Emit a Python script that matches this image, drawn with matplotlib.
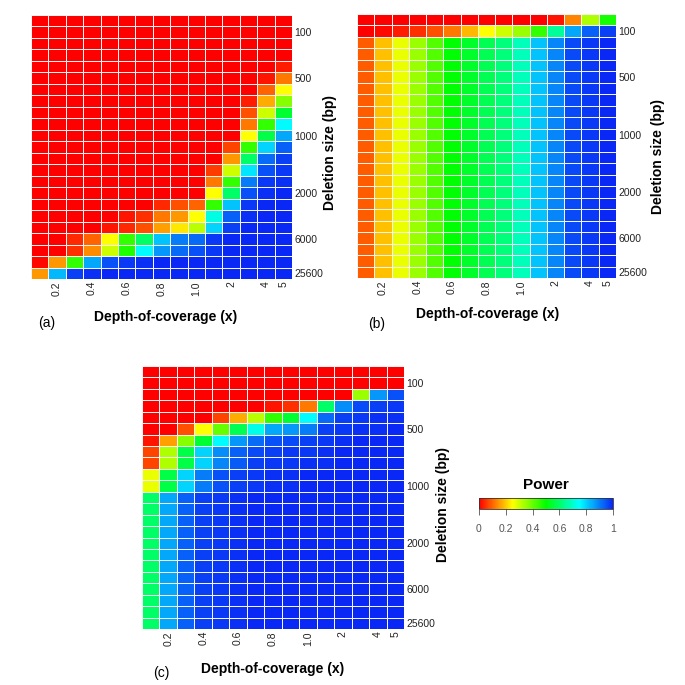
import matplotlib
matplotlib.use("Agg")
import matplotlib.pyplot as plt
import numpy as np
from matplotlib.colors import LinearSegmentedColormap, Normalize
from matplotlib.cm import ScalarMappable

plt.rcParams['font.family'] = ['Liberation Sans', 'DejaVu Sans']

# ---- data ----
depth_values = [0.1, 0.2, 0.3, 0.4, 0.5, 0.6, 0.7, 0.8, 0.9, 1.0, 1.5, 2, 3, 4, 5]
depth_tick_labels = {0.2: "0.2", 0.4: "0.4", 0.6: "0.6", 0.8: "0.8", 1.0: "1.0", 2: "2", 4: "4", 5: "5"}
deletion_sizes = [50, 100, 200, 300, 400, 500, 600, 700, 800, 900, 1000, 1200, 1400,
                  1600, 1800, 2000, 3000, 4000, 5000, 6000, 8000, 12800, 25600]
deletion_tick_labels = [100, 500, 1000, 2000, 6000, 25600]

power_a = [
    [0, 0, 0, 0, 0, 0, 0, 0, 0, 0, 0, 0, 0, 0, 0],
    [0, 0, 0, 0, 0, 0, 0, 0, 0, 0, 0, 0, 0, 0, 0],
    [0, 0, 0, 0, 0, 0, 0, 0, 0, 0, 0, 0, 0, 0, 0],
    [0, 0, 0, 0, 0, 0, 0, 0, 0, 0, 0, 0, 0, 0, 0],
    [0, 0, 0, 0, 0, 0, 0, 0, 0, 0, 0, 0, 0, 0, 0.03],
    [0, 0, 0, 0, 0, 0, 0, 0, 0, 0, 0, 0, 0, 0.02, 0.12],
    [0, 0, 0, 0, 0, 0, 0, 0, 0, 0, 0, 0, 0, 0.10, 0.25],
    [0, 0, 0, 0, 0, 0, 0, 0, 0, 0, 0, 0, 0.03, 0.17, 0.37],
    [0, 0, 0, 0, 0, 0, 0, 0, 0, 0, 0, 0, 0.08, 0.30, 0.55],
    [0, 0, 0, 0, 0, 0, 0, 0, 0, 0, 0, 0, 0.12, 0.45, 0.75],
    [0, 0, 0, 0, 0, 0, 0, 0, 0, 0, 0, 0, 0.25, 0.57, 0.85],
    [0, 0, 0, 0, 0, 0, 0, 0, 0, 0, 0, 0.07, 0.45, 0.80, 0.93],
    [0, 0, 0, 0, 0, 0, 0, 0, 0, 0, 0, 0.15, 0.60, 0.92, 0.97],
    [0, 0, 0, 0, 0, 0, 0, 0, 0, 0, 0.06, 0.30, 0.78, 0.95, 0.98],
    [0, 0, 0, 0, 0, 0, 0, 0, 0, 0, 0.12, 0.45, 0.90, 0.98, 0.99],
    [0, 0, 0, 0, 0, 0, 0, 0, 0, 0, 0.25, 0.60, 0.95, 0.99, 1.0],
    [0, 0, 0, 0, 0, 0, 0, 0.04, 0.08, 0.10, 0.45, 0.82, 0.98, 1.0, 1.0],
    [0, 0, 0, 0, 0, 0.02, 0.05, 0.12, 0.15, 0.25, 0.72, 0.93, 0.99, 1.0, 1.0],
    [0, 0, 0, 0, 0.02, 0.04, 0.08, 0.16, 0.23, 0.32, 0.80, 0.97, 1.0, 1.0, 1.0],
    [0, 0, 0.04, 0.10, 0.25, 0.45, 0.60, 0.82, 0.90, 0.92, 0.98, 1.0, 1.0, 1.0, 1.0],
    [0, 0, 0.05, 0.14, 0.30, 0.47, 0.75, 0.87, 0.92, 0.95, 0.98, 1.0, 1.0, 1.0, 1.0],
    [0.01, 0.15, 0.45, 0.85, 0.95, 0.98, 0.99, 1.0, 1.0, 1.0, 1.0, 1.0, 1.0, 1.0, 1.0],
    [0.15, 0.83, 0.97, 0.99, 1.0, 1.0, 1.0, 1.0, 1.0, 1.0, 1.0, 1.0, 1.0, 1.0, 1.0],
]

power_b = [
    [0, 0, 0, 0, 0, 0, 0, 0, 0, 0, 0, 0.02, 0.13, 0.33, 0.48],
    [0, 0.01, 0.03, 0.05, 0.08, 0.12, 0.18, 0.25, 0.30, 0.35, 0.45, 0.65, 0.85, 0.93, 0.97],
    [0.09, 0.19, 0.27, 0.35, 0.42, 0.50, 0.54, 0.58, 0.62, 0.68, 0.82, 0.89, 0.96, 0.98, 1.0],
    [0.09, 0.19, 0.27, 0.35, 0.42, 0.50, 0.54, 0.58, 0.62, 0.68, 0.82, 0.89, 0.96, 0.98, 1.0],
    [0.09, 0.19, 0.27, 0.35, 0.42, 0.50, 0.54, 0.58, 0.62, 0.68, 0.82, 0.89, 0.96, 0.98, 1.0],
    [0.09, 0.19, 0.27, 0.35, 0.42, 0.50, 0.54, 0.58, 0.62, 0.68, 0.82, 0.89, 0.96, 0.98, 1.0],
    [0.09, 0.19, 0.27, 0.35, 0.42, 0.50, 0.54, 0.58, 0.62, 0.68, 0.82, 0.89, 0.96, 0.98, 1.0],
    [0.09, 0.19, 0.27, 0.35, 0.42, 0.50, 0.54, 0.58, 0.62, 0.68, 0.82, 0.89, 0.96, 0.98, 1.0],
    [0.09, 0.19, 0.27, 0.35, 0.42, 0.50, 0.54, 0.58, 0.62, 0.68, 0.82, 0.89, 0.96, 0.98, 1.0],
    [0.09, 0.19, 0.27, 0.35, 0.42, 0.50, 0.54, 0.58, 0.62, 0.68, 0.82, 0.89, 0.96, 0.98, 1.0],
    [0.09, 0.19, 0.27, 0.35, 0.42, 0.50, 0.54, 0.58, 0.62, 0.68, 0.82, 0.89, 0.96, 0.98, 1.0],
    [0.09, 0.19, 0.27, 0.35, 0.42, 0.50, 0.54, 0.58, 0.62, 0.68, 0.82, 0.89, 0.96, 0.98, 1.0],
    [0.09, 0.19, 0.27, 0.35, 0.42, 0.50, 0.54, 0.58, 0.62, 0.68, 0.82, 0.89, 0.96, 0.98, 1.0],
    [0.09, 0.19, 0.27, 0.35, 0.42, 0.50, 0.54, 0.58, 0.62, 0.68, 0.82, 0.89, 0.96, 0.98, 1.0],
    [0.09, 0.19, 0.27, 0.35, 0.42, 0.50, 0.54, 0.58, 0.62, 0.68, 0.82, 0.89, 0.96, 0.98, 1.0],
    [0.09, 0.19, 0.27, 0.35, 0.42, 0.50, 0.54, 0.58, 0.62, 0.68, 0.82, 0.89, 0.96, 0.98, 1.0],
    [0.09, 0.19, 0.27, 0.35, 0.42, 0.50, 0.54, 0.58, 0.62, 0.68, 0.82, 0.89, 0.96, 0.98, 1.0],
    [0.09, 0.19, 0.27, 0.35, 0.42, 0.50, 0.54, 0.58, 0.62, 0.68, 0.82, 0.89, 0.96, 0.98, 1.0],
    [0.09, 0.19, 0.27, 0.35, 0.42, 0.50, 0.54, 0.58, 0.62, 0.68, 0.82, 0.89, 0.96, 0.98, 1.0],
    [0.09, 0.19, 0.27, 0.35, 0.42, 0.50, 0.54, 0.58, 0.62, 0.68, 0.82, 0.89, 0.96, 0.98, 1.0],
    [0.09, 0.19, 0.27, 0.35, 0.42, 0.50, 0.54, 0.58, 0.62, 0.68, 0.82, 0.89, 0.96, 0.98, 1.0],
    [0.09, 0.19, 0.27, 0.35, 0.42, 0.50, 0.54, 0.58, 0.62, 0.68, 0.82, 0.89, 0.96, 0.98, 1.0],
    [0.09, 0.19, 0.27, 0.35, 0.42, 0.50, 0.54, 0.58, 0.62, 0.68, 0.82, 0.89, 0.96, 0.98, 1.0],
]

power_c = [
    [0, 0, 0, 0, 0, 0, 0, 0, 0, 0, 0, 0, 0, 0, 0],
    [0, 0, 0, 0, 0, 0, 0, 0, 0, 0, 0, 0, 0, 0, 0],
    [0, 0, 0, 0, 0, 0, 0, 0, 0, 0, 0, 0, 0.35, 0.87, 0.95],
    [0, 0, 0, 0, 0, 0, 0, 0.02, 0.05, 0.12, 0.60, 0.88, 0.96, 0.97, 0.98],
    [0, 0, 0, 0, 0.07, 0.17, 0.32, 0.45, 0.55, 0.75, 0.92, 0.97, 0.98, 0.99, 0.99],
    [0, 0, 0.08, 0.25, 0.40, 0.58, 0.73, 0.85, 0.87, 0.90, 0.97, 0.98, 0.99, 0.99, 1.0],
    [0.02, 0.16, 0.37, 0.55, 0.75, 0.87, 0.92, 0.95, 0.96, 0.97, 0.98, 0.99, 1.0, 1.0, 1.0],
    [0.07, 0.33, 0.57, 0.80, 0.88, 0.93, 0.96, 0.97, 0.98, 0.98, 0.99, 1.0, 1.0, 1.0, 1.0],
    [0.07, 0.33, 0.57, 0.80, 0.89, 0.94, 0.97, 0.98, 0.98, 0.99, 0.99, 1.0, 1.0, 1.0, 1.0],
    [0.27, 0.57, 0.80, 0.90, 0.95, 0.97, 0.98, 0.99, 0.99, 1.0, 1.0, 1.0, 1.0, 1.0, 1.0],
    [0.27, 0.57, 0.80, 0.90, 0.95, 0.97, 0.98, 0.99, 0.99, 1.0, 1.0, 1.0, 1.0, 1.0, 1.0],
    [0.60, 0.85, 0.93, 0.97, 0.98, 0.99, 1.0, 1.0, 1.0, 1.0, 1.0, 1.0, 1.0, 1.0, 1.0],
    [0.60, 0.85, 0.93, 0.97, 0.98, 0.99, 1.0, 1.0, 1.0, 1.0, 1.0, 1.0, 1.0, 1.0, 1.0],
    [0.60, 0.85, 0.93, 0.97, 0.98, 0.99, 1.0, 1.0, 1.0, 1.0, 1.0, 1.0, 1.0, 1.0, 1.0],
    [0.60, 0.85, 0.93, 0.97, 0.98, 0.99, 1.0, 1.0, 1.0, 1.0, 1.0, 1.0, 1.0, 1.0, 1.0],
    [0.60, 0.85, 0.93, 0.97, 0.98, 0.99, 1.0, 1.0, 1.0, 1.0, 1.0, 1.0, 1.0, 1.0, 1.0],
    [0.60, 0.85, 0.93, 0.97, 0.98, 0.99, 1.0, 1.0, 1.0, 1.0, 1.0, 1.0, 1.0, 1.0, 1.0],
    [0.60, 0.85, 0.93, 0.97, 0.98, 0.99, 1.0, 1.0, 1.0, 1.0, 1.0, 1.0, 1.0, 1.0, 1.0],
    [0.60, 0.85, 0.93, 0.97, 0.98, 0.99, 1.0, 1.0, 1.0, 1.0, 1.0, 1.0, 1.0, 1.0, 1.0],
    [0.60, 0.85, 0.93, 0.97, 0.98, 0.99, 1.0, 1.0, 1.0, 1.0, 1.0, 1.0, 1.0, 1.0, 1.0],
    [0.60, 0.85, 0.93, 0.97, 0.98, 0.99, 1.0, 1.0, 1.0, 1.0, 1.0, 1.0, 1.0, 1.0, 1.0],
    [0.60, 0.85, 0.93, 0.97, 0.98, 0.99, 1.0, 1.0, 1.0, 1.0, 1.0, 1.0, 1.0, 1.0, 1.0],
    [0.60, 0.85, 0.93, 0.97, 0.98, 0.99, 1.0, 1.0, 1.0, 1.0, 1.0, 1.0, 1.0, 1.0, 1.0],
]

power_ticks = [0, 0.2, 0.4, 0.6, 0.8, 1]
power_tick_labels = ["0", "0.2", "0.4", "0.6", "0.8", "1"]

# ---- styling ----
W = H = 685
DPI = 100
cmap = LinearSegmentedColormap.from_list(
    "power_rainbow", ["#FF0000", "#FFFF00", "#00FF00", "#00FFFF", "#0A28F5"])
norm = Normalize(0, 1)

fig = plt.figure(figsize=(W / DPI, H / DPI), dpi=DPI)


def px_axes(x0, y0, x1, y1):
    return fig.add_axes([x0 / W, 1 - y1 / H, (x1 - x0) / W, (y1 - y0) / H])


def heat(ax, data):
    arr = np.array(data, dtype=float)
    ax.pcolormesh(np.arange(len(depth_values) + 1), np.arange(len(deletion_sizes) + 1), arr,
                  cmap=cmap, norm=norm, edgecolors="#f4f4f4", linewidth=0.55)
    ax.set_xlim(0, len(depth_values))
    ax.set_ylim(len(deletion_sizes), 0)
    for s in ax.spines.values():
        s.set_visible(False)
    xt = [i + 0.5 for i, d in enumerate(depth_values) if d in depth_tick_labels]
    xl = [depth_tick_labels[d] for d in depth_values if d in depth_tick_labels]
    ax.set_xticks(xt)
    ax.set_xticklabels(xl, rotation=90, fontsize=7.5, va="top")
    yt = [deletion_sizes.index(v) + 0.5 for v in deletion_tick_labels]
    ax.set_yticks(yt)
    ax.set_yticklabels([str(v) for v in deletion_tick_labels], fontsize=7.5)
    ax.yaxis.tick_right()
    ax.tick_params(axis="both", length=0, pad=1.5, colors="#222222")


ax_a = px_axes(31, 15, 292, 279)
heat(ax_a, power_a)
ax_b = px_axes(357, 14, 616, 278)
heat(ax_b, power_b)
ax_c = px_axes(142, 366, 404, 629)
heat(ax_c, power_c)


def ftext(x, y, s, **kw):
    fig.text(x / W, 1 - y / H, s, **kw)


lab_kw = dict(fontsize=10, fontweight="bold", ha="center", va="center")
ftext(166, 317, "Depth-of-coverage (x)", **lab_kw)
ftext(488, 314, "Depth-of-coverage (x)", **lab_kw)
ftext(273, 669, "Depth-of-coverage (x)", **lab_kw)
ftext(330, 153, "Deletion size (bp)", rotation=90, **lab_kw)
ftext(658, 157, "Deletion size (bp)", rotation=90, **lab_kw)
ftext(443, 505, "Deletion size (bp)", rotation=90, **lab_kw)

pan_kw = dict(fontsize=10, ha="center", va="center")
ftext(47, 323, "(a)", **pan_kw)
ftext(377, 324, "(b)", **pan_kw)
ftext(161, 673, "(c)", **pan_kw)

# colorbar
cax = px_axes(479, 498, 613, 509)
cb = fig.colorbar(ScalarMappable(norm=norm, cmap=cmap), cax=cax, orientation="horizontal",
                  ticks=power_ticks)
cb.set_ticklabels(power_tick_labels)
cb.outline.set_linewidth(0.6)
cb.outline.set_edgecolor("#333333")
cax.tick_params(axis="x", length=4, width=0.6, colors="#555555", labelsize=7.5, pad=7)
ftext(546, 485, "Power", fontsize=11, fontweight="bold", ha="center", va="center")

fig.savefig("out.png", dpi=DPI)
